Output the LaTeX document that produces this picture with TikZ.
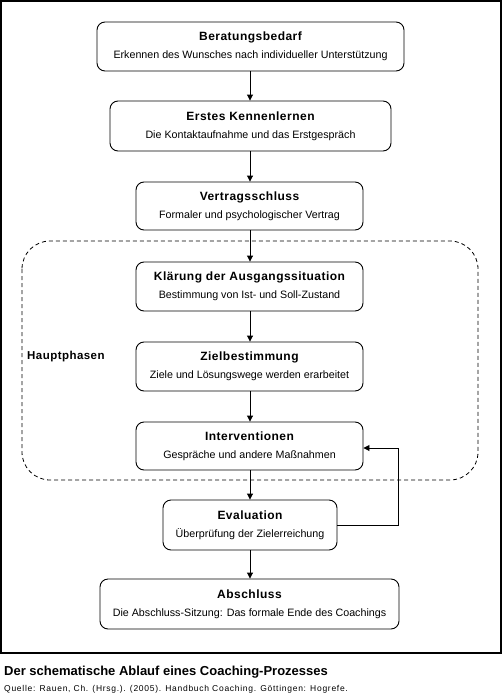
\documentclass[tikz,border=0pt]{standalone}
\usepackage{fontspec}
\setmainfont{Liberation Sans}
\newfontfamily\srcfont[LetterSpace=8.5]{Liberation Sans}
\newfontfamily\ttlfont[LetterSpace=4]{Liberation Sans}
\usetikzlibrary{arrows.meta}
\newcommand{\boxttl}[1]{{\ttlfont\fontsize{12}{14}\selectfont\bfseries #1}}
\begin{document}
\begin{tikzpicture}[x=1pt,y=-1pt,
  box/.style={draw, rounded corners=8pt, line width=0.9pt, align=center, inner sep=0pt,
    font=\fontsize{10.7}{18}\selectfont},
  arr/.style={-{Triangle[length=6pt,width=6pt]}, line width=0.9pt}]
\useasboundingbox (0,0) rectangle (502,696);
\draw[line width=1.2pt] (1,1) rectangle (501,653);
\draw[line width=0.8pt, dash pattern=on 4pt off 3pt, rounded corners=28pt] (22,241) rectangle (478,480);
\node[anchor=west, inner sep=0pt, font=\ttlfont\fontsize{11.5}{13}\selectfont\bfseries] (hp) at (27,357) {Hauptphasen};

\node[box, minimum width=307pt, minimum height=49pt] (b1) at (250.5,46.5)
  {\boxttl{Beratungsbedarf}\\Erkennen des Wunsches nach individueller Unterstützung};
\node[box, minimum width=281pt, minimum height=50pt] (b2) at (250.5,126)
  {\boxttl{Erstes Kennenlernen}\\Die Kontaktaufnahme und das Erstgespräch};
\node[box, minimum width=227pt, minimum height=48pt] (b3) at (249.5,206)
  {\boxttl{Vertragsschluss}\\Formaler und psychologischer Vertrag};
\node[box, minimum width=227pt, minimum height=49pt] (b4) at (249.5,286.5)
  {\boxttl{Klärung der Ausgangssituation}\\Bestimmung von Ist- und Soll-Zustand};
\node[box, minimum width=227pt, minimum height=49pt] (b5) at (249.5,366.5)
  {\boxttl{Zielbestimmung}\\Ziele und Lösungswege werden erarbeitet};
\node[box, minimum width=227pt, minimum height=48pt] (b6) at (249.5,446)
  {\boxttl{Interventionen}\\Gespräche und andere Maßnahmen};
\node[box, minimum width=174pt, minimum height=50pt] (b7) at (250,525)
  {\boxttl{Evaluation}\\Überprüfung der Zielerreichung};
\node[box, minimum width=299pt, minimum height=50pt] (b8) at (249.5,604)
  {\boxttl{Abschluss}\\Die Abschluss-Sitzung: Das formale Ende des Coachings};

\foreach \a/\b in {b1/b2,b2/b3,b3/b4,b4/b5,b5/b6,b6/b7,b7/b8}
  \draw[arr] (\a.south -| 250,0) -- (\b.north -| 250,0);
\coordinate (fbt) at (398,448);
\draw[arr] (b7.east) -| (fbt) -- (fbt -| b6.east);

\node[anchor=west, font=\fontsize{13}{15}\selectfont\bfseries, inner sep=0pt] (cap) at (4,672)
  {Der schematische Ablauf eines Coaching-Prozesses};
\node[anchor=west, font=\srcfont\fontsize{8.5}{10}\selectfont, inner sep=0pt] (src) at (4,689)
  {Quelle: Rauen, Ch. (Hrsg.). (2005). Handbuch Coaching. Göttingen: Hogrefe.};
\end{tikzpicture}
\end{document}
